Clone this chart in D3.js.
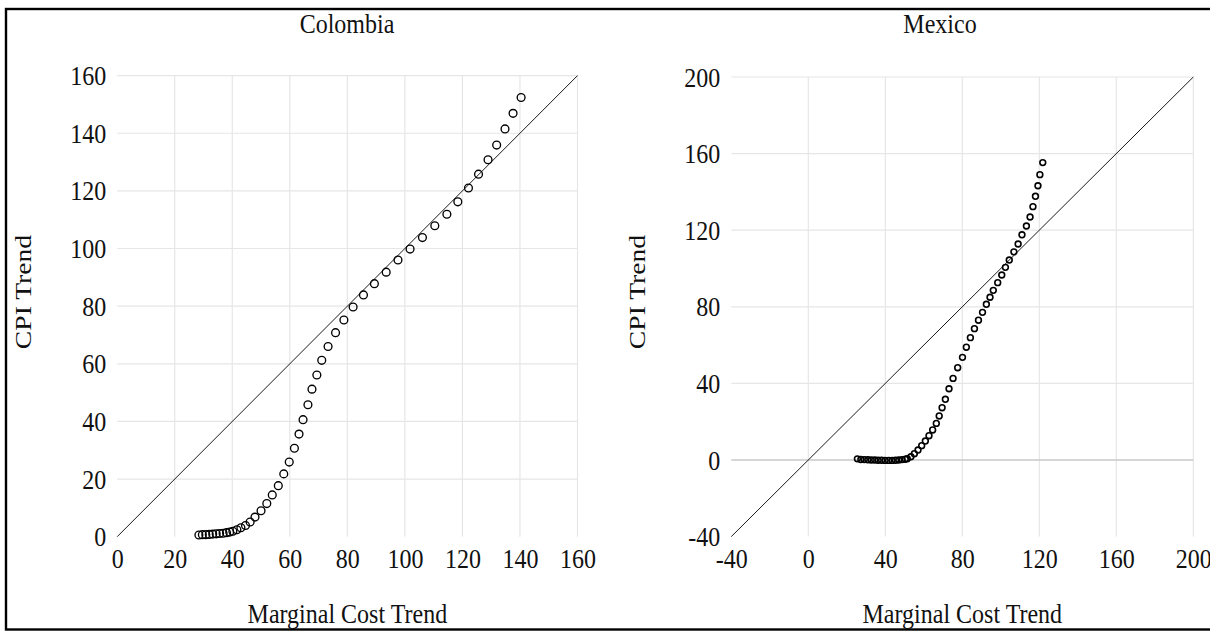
<!DOCTYPE html>
<html>
<head>
<meta charset="utf-8">
<script src="https://cdn.jsdelivr.net/npm/d3@7/dist/d3.min.js"></script>
<style>
  html, body { margin: 0; padding: 0; background: #fff; }
  svg { display: block; }
  text { font-family: "Liberation Serif", "Times New Roman", serif; fill: #111; }
</style>
</head>
<body>
<svg id="chart" width="1210" height="631"></svg>
<script>
// Colombia: marginal cost trend (x) vs CPI trend (y)
const colombiaMC = [28.4, 29.6, 30.8, 32.0, 33.2, 34.4, 35.6, 36.8, 38.0, 39.1,
  40.2, 41.6, 43.0, 44.6, 46.2, 47.9, 50.0, 52.0, 53.9, 56.0,
  57.9, 59.8, 61.6, 63.2, 64.6, 66.3, 67.7, 69.4, 71.1, 73.3,
  75.9, 78.8, 82.0, 85.6, 89.4, 93.5, 97.6, 101.8, 106.1, 110.4,
  114.6, 118.4, 122.1, 125.6, 128.9, 131.9, 134.8, 137.6, 140.4];
const colombiaCPI = [0.6, 0.7, 0.7, 0.8, 0.9, 1.0, 1.1, 1.2, 1.4, 1.6,
  1.9, 2.4, 3.1, 3.9, 5.1, 6.8, 9.0, 11.5, 14.5, 17.7,
  21.8, 25.9, 30.7, 35.6, 40.6, 45.8, 51.2, 56.1, 61.2, 66.0,
  70.8, 75.2, 79.7, 83.9, 87.8, 91.8, 96.0, 99.8, 103.8, 107.9,
  111.9, 116.2, 121.0, 125.8, 130.8, 135.9, 141.5, 146.9, 152.4];

// Mexico: marginal cost trend (x) vs CPI trend (y)
const mexicoMC = [25.5, 27.3, 29.1, 30.9, 32.7, 34.5, 36.3, 38.1, 39.9, 41.7,
  43.5, 45.3, 47.0, 48.7, 50.4, 51.4, 53.3, 55.1, 57.0, 58.9,
  60.8, 62.7, 64.6, 66.5, 68.0, 69.5, 71.2, 73.1, 75.2, 77.6,
  80.1, 82.1, 84.2, 86.3, 88.4, 90.5, 92.5, 94.4, 96.1, 98.4,
  100.5, 102.4, 104.4, 106.8, 109.0, 111.0, 113.3, 115.2, 116.7, 118.0,
  119.3, 120.3, 121.8];
const mexicoCPI = [0.6, 0.3, 0.2, 0.1, 0.0, 0.0, -0.1, -0.1, -0.2, -0.2,
  -0.2, -0.1, 0.0, 0.2, 0.4, 0.7, 1.7, 3.3, 5.2, 7.5,
  9.9, 12.7, 15.7, 19.1, 23.0, 27.3, 31.7, 37.2, 42.6, 48.2,
  53.6, 58.9, 63.9, 68.6, 73.0, 77.1, 81.3, 85.0, 88.6, 92.6,
  96.6, 100.6, 104.4, 108.7, 112.8, 117.6, 122.2, 126.9, 132.3, 137.7,
  143.2, 149.0, 155.3];

const colombiaTicks = [0, 20, 40, 60, 80, 100, 120, 140, 160];
const mexicoTicks = [-40, 0, 40, 80, 120, 160, 200];

const panelTitles = ["Colombia", "Mexico"];
const xAxisTitle = "Marginal Cost Trend";
const yAxisTitle = "CPI Trend";

const svg = d3.select("#chart");
const FONT = 24;
const STRETCH = 1.15;   // tall serif lettering
const fmt = d => String(d);   // plain hyphen for negatives

// outer frame
svg.append("rect")
  .attr("x", 6).attr("y", 9)
  .attr("width", 1220).attr("height", 620.5)
  .attr("fill", "none").attr("stroke", "#000").attr("stroke-width", 2.4);

function label(g, txt, x, y, anchor, rotate) {
  const rot = rotate ? " rotate(-90)" : "";
  const sc = rotate ? ` scale(${STRETCH},1)` : ` scale(1,${STRETCH})`;
  return g.append("text")
    .attr("transform", `translate(${x},${y})${rot}${sc}`)
    .attr("text-anchor", anchor)
    .style("font-size", FONT + "px")
    .text(txt);
}

const panels = [
  {
    title: panelTitles[0], xs: colombiaMC, ys: colombiaCPI, ticks: colombiaTicks,
    x: d3.scaleLinear().domain([0, 160]).range([117.2, 577.5]),
    y: d3.scaleLinear().domain([0, 160]).range([536.7, 75.6]),
    r: 3.9, sw: 1.35, zeroLine: false, yTitleX: 31, titleX: 347
  },
  {
    title: panelTitles[1], xs: mexicoMC, ys: mexicoCPI, ticks: mexicoTicks,
    x: d3.scaleLinear().domain([-40, 200]).range([731.3, 1193.3]),
    y: d3.scaleLinear().domain([-40, 200]).range([536.6, 77]),
    r: 2.9, sw: 1.6, zeroLine: true, yTitleX: 645, titleX: 940
  }
];

panels.forEach(p => {
  const g = svg.append("g");
  const [x0, x1] = p.x.domain();
  const [y0, y1] = p.y.domain();
  const inner = p.ticks.filter(t => t > p.ticks[0]);

  // gridlines
  const grid = g.append("g").attr("class", "grid");
  grid.selectAll("line.v").data(inner.filter(t => t !== 0 || p.zeroLine)).join("line")
    .attr("class", "v")
    .attr("x1", d => p.x(d)).attr("x2", d => p.x(d))
    .attr("y1", p.y(y0)).attr("y2", p.y(y1))
    .attr("stroke", "#e6e6e6").attr("stroke-width", 1.2);
  grid.selectAll("line.h").data(inner.filter(t => t !== 0)).join("line")
    .attr("class", "h")
    .attr("x1", p.x(x0)).attr("x2", p.x(x1))
    .attr("y1", d => p.y(d)).attr("y2", d => p.y(d))
    .attr("stroke", "#e6e6e6").attr("stroke-width", 1.2);
  if (p.zeroLine) {
    g.append("line")
      .attr("x1", p.x(x0)).attr("x2", p.x(x1))
      .attr("y1", p.y(0)).attr("y2", p.y(0))
      .attr("stroke", "#c8c8c8").attr("stroke-width", 1.6);
  }

  // axes (labels only)
  const xAxis = d3.axisBottom(p.x).tickValues(p.ticks).tickSize(0).tickFormat(fmt);
  const yAxis = d3.axisLeft(p.y).tickValues(p.ticks).tickSize(0).tickFormat(fmt);
  const gx = g.append("g").attr("transform", `translate(0,${p.y(y0)})`).call(xAxis);
  const gy = g.append("g").attr("transform", `translate(${p.x(x0)},0)`).call(yAxis);
  [gx, gy].forEach(a => a.select(".domain").remove());
  gx.selectAll(".tick text")
    .attr("x", null).attr("y", null).attr("dy", null)
    .attr("transform", `translate(0,31) scale(1,${STRETCH})`)
    .attr("text-anchor", "middle")
    .style("font-size", FONT + "px").style("font-family", "Liberation Serif, serif").attr("fill", "#111");
  gy.selectAll(".tick text")
    .attr("x", null).attr("y", null).attr("dy", null)
    .attr("transform", `translate(-11,9) scale(1,${STRETCH})`)
    .attr("text-anchor", "end")
    .style("font-size", FONT + "px").style("font-family", "Liberation Serif, serif").attr("fill", "#111");

  // 45-degree reference line
  const lo = Math.max(x0, y0), hi = Math.min(x1, y1);
  g.append("line")
    .attr("x1", p.x(lo)).attr("y1", p.y(lo))
    .attr("x2", p.x(hi)).attr("y2", p.y(hi))
    .attr("stroke", "#1a1a1a").attr("stroke-width", 1);

  // scatter points
  g.append("g").selectAll("circle").data(p.xs.map((v, i) => [v, p.ys[i]])).join("circle")
    .attr("cx", d => p.x(d[0])).attr("cy", d => p.y(d[1]))
    .attr("r", p.r)
    .attr("fill", "none").attr("stroke", "#000").attr("stroke-width", p.sw);

  // titles
  const cx = (p.x.range()[0] + p.x.range()[1]) / 2;
  label(g, p.title, p.titleX, 33, "middle", false);
  label(g, xAxisTitle, cx, 623, "middle", false);
  label(g, yAxisTitle, p.yTitleX, 292, "middle", true);
});
</script>
</body>
</html>
